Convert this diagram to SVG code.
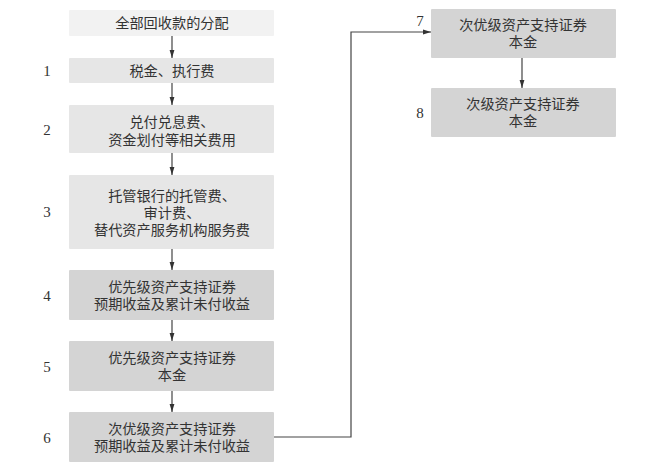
<svg xmlns="http://www.w3.org/2000/svg" width="654" height="470" viewBox="0 0 654 470">
<style>
.t{font-family:"Noto Sans CJK SC","Noto Sans",sans-serif;font-size:14.2px;fill:#333;text-anchor:middle}
.n{font-family:"Liberation Serif",serif;font-size:15px;fill:#333;text-anchor:middle}
.l0{fill:#f2f2f2}.l1{fill:#e6e6e6}.l2{fill:#d4d4d4}
.c{fill:none;stroke:#444;stroke-width:1.2}
</style>
<defs>
<marker id="a" viewBox="0 0 10 10" refX="10" refY="5" markerWidth="8" markerHeight="8" markerUnits="userSpaceOnUse" orient="auto">
<path d="M0,2 L10,5 L0,8 Z" fill="#333"/>
</marker>
</defs>
<g id="n0"><rect class="l0" x="69" y="10" width="205" height="26" rx="1"/><text class="t" x="172" y="28">全部回收款的分配</text></g>
<g id="n1"><rect class="l1" x="69" y="58" width="205" height="25" rx="1"/><text class="n" x="47" y="76">1</text><text class="t" x="172" y="76">税金、执行费</text></g>
<g id="n2"><rect class="l1" x="69" y="105" width="205" height="48" rx="1"/><text class="n" x="47" y="135">2</text><text class="t" x="172" y="127">兑付兑息费、</text><text class="t" x="172" y="145">资金划付等相关费用</text></g>
<g id="n3"><rect class="l1" x="69" y="175" width="205" height="74" rx="1"/><text class="n" x="47" y="217">3</text><text class="t" x="172" y="201">托管银行的托管费、</text><text class="t" x="172" y="218">审计费、</text><text class="t" x="172" y="235">替代资产服务机构服务费</text></g>
<g id="n4"><rect class="l2" x="69" y="270" width="205" height="50" rx="1"/><text class="n" x="47" y="301">4</text><text class="t" x="172" y="292">优先级资产支持证券</text><text class="t" x="172" y="309">预期收益及累计未付收益</text></g>
<g id="n5"><rect class="l2" x="69" y="341" width="205" height="50" rx="1"/><text class="n" x="47" y="372">5</text><text class="t" x="172" y="363">优先级资产支持证券</text><text class="t" x="172" y="380">本金</text></g>
<g id="n6"><rect class="l2" x="69" y="412" width="205" height="50" rx="1"/><text class="n" x="47" y="443">6</text><text class="t" x="172" y="434">次优级资产支持证券</text><text class="t" x="172" y="451">预期收益及累计未付收益</text></g>
<g id="n7"><rect class="l2" x="431" y="9" width="185" height="49" rx="1"/><text class="n" x="420" y="26">7</text><text class="t" x="523" y="30">次优级资产支持证券</text><text class="t" x="523" y="47">本金</text></g>
<g id="n8"><rect class="l2" x="431" y="88" width="185" height="49" rx="1"/><text class="n" x="420" y="118">8</text><text class="t" x="523" y="109">次级资产支持证券</text><text class="t" x="523" y="126">本金</text></g>
<g id="connectors">
<line class="c" x1="172" y1="36" x2="172" y2="58" marker-end="url(#a)"/>
<line class="c" x1="172" y1="83" x2="172" y2="105" marker-end="url(#a)"/>
<line class="c" x1="172" y1="153" x2="172" y2="175" marker-end="url(#a)"/>
<line class="c" x1="172" y1="249" x2="172" y2="270" marker-end="url(#a)"/>
<line class="c" x1="172" y1="320" x2="172" y2="341" marker-end="url(#a)"/>
<line class="c" x1="172" y1="391" x2="172" y2="412" marker-end="url(#a)"/>
<polyline class="c" points="274,437 351,437 351,32 431,32" marker-end="url(#a)"/>
<line class="c" x1="522" y1="58" x2="522" y2="88" marker-end="url(#a)"/>
</g>
</svg>
